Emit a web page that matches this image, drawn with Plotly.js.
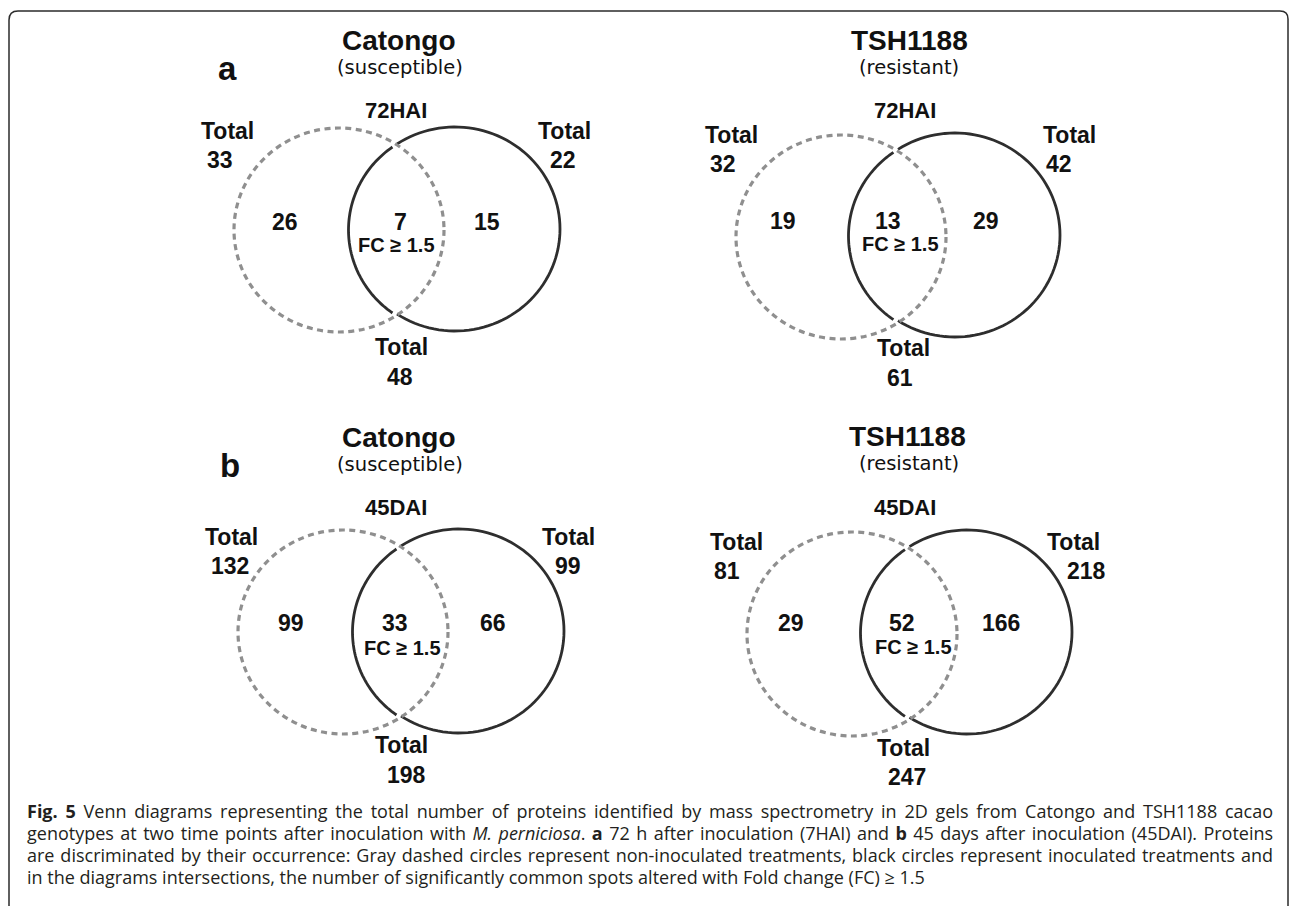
<!DOCTYPE html>
<html>
<head>
<meta charset="utf-8">
<script src="https://cdn.plot.ly/plotly-3.0.1.min.js"></script>
<style>
  html, body { margin: 0; padding: 0; background: #ffffff; }
  #fig { width: 1290px; height: 906px; }
</style>
</head>
<body>
<div id="fig"></div>
<script>
// Proteins identified in 2D gels (counts per Venn region)
const panelLetters = ['a', 'b'];
const timePoints = ['72HAI', '45DAI'];
const genotypes = ['Catongo', 'TSH1188'];
const resistance = ['(susceptible)', '(resistant)'];
// diagram order: a-Catongo, a-TSH1188, b-Catongo, b-TSH1188
const nonInoculatedOnly = [26, 19, 99, 29];
const sharedFC = [7, 13, 33, 52];
const inoculatedOnly = [15, 29, 66, 166];
const totalNonInoculated = [33, 32, 132, 81];
const totalInoculated = [22, 42, 99, 218];
const totalCombined = [48, 61, 198, 247];
const fcLabel = 'FC ≥ 1.5';

const captionLines = [
  '<b>Fig. 5</b> Venn diagrams representing the total number of proteins identified by mass spectrometry in 2D gels from Catongo and TSH1188 cacao',
  'genotypes at two time points after inoculation with <i>M. perniciosa</i>. <b>a</b> 72 h after inoculation (7HAI) and <b>b</b> 45 days after inoculation (45DAI). Proteins',
  'are discriminated by their occurrence: Gray dashed circles represent non-inoculated treatments, black circles represent inoculated treatments and',
  'in the diagrams intersections, the number of significantly common spots altered with Fold change (FC) ≥ 1.5'
];
// lines set flush to both margins (the last line is left ragged)
const captionJustified = [true, true, true, false];

// Placement of each diagram on the page (page pixels, y downwards)
const placement = [
  { title: [399, 40], sub: [400, 67], time: [396, 110], letter: [227, 68],
    dash: [339, 230], solid: [455, 229],
    totL: [227, 131], numL: [220, 160], totR: [564, 131], numR: [563, 160],
    reg: [[285, 222], [400, 222], [487, 222]], fc: [396, 245], totB: [401, 347], numB: [400, 377] },
  { title: [909, 40], sub: [909, 67], time: [905, 110],
    dash: [841, 237], solid: [955, 235],
    totL: [731, 135], numL: [723, 164], totR: [1069, 135], numR: [1059, 164],
    reg: [[783, 221], [888, 221], [986, 221]], fc: [900, 244], totB: [903, 348], numB: [900, 378] },
  { title: [399, 437], sub: [400, 464], time: [396, 507], letter: [230, 465],
    dash: [343, 632], solid: [459, 631],
    totL: [231, 537], numL: [230, 566], totR: [568, 537], numR: [568, 566],
    reg: [[291, 623], [395, 623], [493, 623]], fc: [402, 648], totB: [401, 745], numB: [406, 775] },
  { title: [907, 436], sub: [909, 463], time: [905, 507],
    dash: [852, 634], solid: [967, 632],
    totL: [736, 542], numL: [727, 571], totR: [1073, 542], numR: [1086, 571],
    reg: [[791, 623], [902, 623], [1001, 623]], fc: [913, 647], totB: [903, 748], numB: [907, 777] }
];

const RX = 105, RY = 102;
const INK = '#111111';
const BOLD = 'Liberation Sans, Arial, sans-serif';
const CAPTION_LEFT = 25, CAPTION_RIGHT = 1271;

function label(pos, text, size, opts) {
  opts = opts || {};
  return {
    x: pos[0], y: pos[1], xref: 'x', yref: 'y', text: String(text),
    showarrow: false, xanchor: opts.xanchor || 'center', yanchor: 'middle',
    align: opts.xanchor === 'left' ? 'left' : 'center',
    font: { family: opts.family || BOLD, size: size, color: opts.color || INK,
            weight: opts.weight || 'bold' }
  };
}

// ellipse arc as an SVG path, angles in radians (y pointing down)
function arc(cx, cy, a0, a1) {
  const n = 90;
  let d = '';
  for (let i = 0; i <= n; i++) {
    const t = a0 + (a1 - a0) * i / n;
    const x = cx + RX * Math.cos(t), y = cy + RY * Math.sin(t);
    d += (i === 0 ? 'M ' : ' L ') + x.toFixed(2) + ' ' + y.toFixed(2);
  }
  return d;
}

const shapes = [];
const annotations = [];

// outer rounded frame
shapes.push({
  type: 'path', xref: 'x', yref: 'y',
  path: 'M 9 910 L 9 20 Q 9 11 18 11 L 1280 11 Q 1288 11 1288 19 L 1288 910',
  line: { color: '#2b2b2b', width: 1.5 }
});

placement.forEach((p, i) => {
  const row = Math.floor(i / 2), col = i % 2;

  // inoculated (solid) circle: outer arc plus the inner arc, split at the crossings
  const half = (p.solid[0] - p.dash[0]) / 2;
  const alpha = Math.acos(Math.min(1, half / RX));
  const gap = 0.035;
  shapes.push({ type: 'path', xref: 'x', yref: 'y',
    path: arc(p.solid[0], p.solid[1], Math.PI + alpha, 3 * Math.PI - alpha),
    line: { color: '#2e2e2e', width: 2.8 } });
  shapes.push({ type: 'path', xref: 'x', yref: 'y',
    path: arc(p.solid[0] - 1.5, p.solid[1] + 1, Math.PI - alpha + gap, Math.PI + alpha - gap),
    line: { color: '#2e2e2e', width: 2.8 } });

  // non-inoculated (dashed) circle
  shapes.push({ type: 'circle', xref: 'x', yref: 'y',
    x0: p.dash[0] - RX, x1: p.dash[0] + RX, y0: p.dash[1] - RY, y1: p.dash[1] + RY,
    line: { color: '#8f8f8f', width: 3.2, dash: '6px,4.5px' } });

  annotations.push(label(p.title, genotypes[col], 28));
  annotations.push(label(p.sub, resistance[col], 19.5, { family: 'DejaVu Sans, sans-serif', weight: 'normal' }));
  annotations.push(label(p.time, timePoints[row], 22));
  if (p.letter) annotations.push(label(p.letter, panelLetters[row], 33));

  annotations.push(label(p.totL, 'Total', 23));
  annotations.push(label(p.numL, totalNonInoculated[i], 23));
  annotations.push(label(p.totR, 'Total', 23));
  annotations.push(label(p.numR, totalInoculated[i], 23));
  annotations.push(label(p.reg[0], nonInoculatedOnly[i], 23));
  annotations.push(label(p.reg[1], sharedFC[i], 23));
  annotations.push(label(p.reg[2], inoculatedOnly[i], 23));
  annotations.push(label(p.fc, fcLabel, 20));
  annotations.push(label(p.totB, 'Total', 23));
  annotations.push(label(p.numB, totalCombined[i], 23));
});

// figure caption
const captionY = [811, 833, 855, 877];
const captionStart = annotations.length;
captionLines.forEach((t, k) => {
  annotations.push(label([CAPTION_LEFT, captionY[k]], t, 18,
    { xanchor: 'left', family: 'Open Sans, Noto Sans, sans-serif', weight: 'normal', color: '#231f20' }));
});

const layout = {
  width: 1290, height: 906, autosize: false,
  margin: { l: 0, r: 0, t: 0, b: 0, pad: 0 },
  paper_bgcolor: '#ffffff', plot_bgcolor: '#ffffff',
  showlegend: false,
  xaxis: { range: [0, 1290], visible: false, fixedrange: true },
  yaxis: { range: [906, 0], visible: false, fixedrange: true },
  shapes: shapes,
  annotations: annotations
};

Plotly.newPlot('fig', [{ x: [], y: [], type: 'scatter', mode: 'markers', hoverinfo: 'skip' }], layout,
  { staticPlot: true, displayModeBar: false }).then(gd => {
  // justify the caption lines by widening the word gaps
  captionLines.forEach((t, k) => {
    if (!captionJustified[k]) return;
    const g = gd.querySelector('g.annotation[data-index="' + (captionStart + k) + '"]');
    if (!g) return;
    const txt = g.querySelector('text.annotation-text');
    if (!txt) return;
    const width = txt.getBBox().width;
    const spaces = (txt.textContent.match(/ /g) || []).length;
    const extra = (CAPTION_RIGHT - CAPTION_LEFT - width) / Math.max(1, spaces);
    if (extra > 0) txt.style.wordSpacing = extra.toFixed(2) + 'px';
  });
});
</script>
</body>
</html>
